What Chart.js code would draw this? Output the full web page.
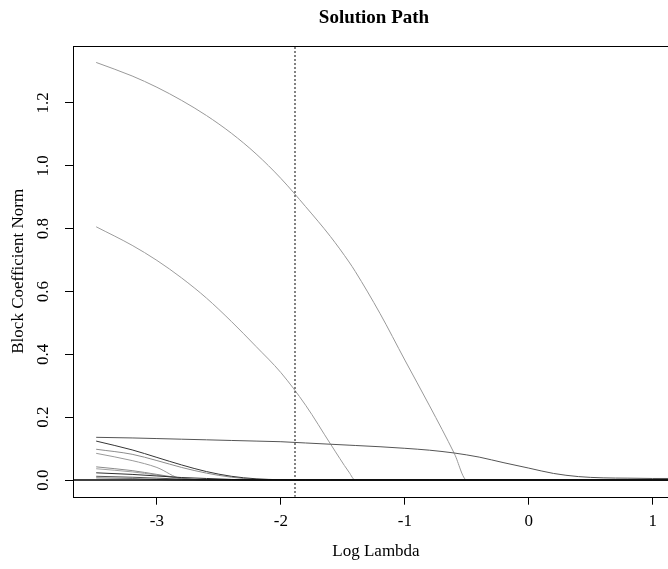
<!DOCTYPE html>
<html>
<head>
<meta charset="utf-8">
<title>Solution Path</title>
<script src="https://cdn.jsdelivr.net/npm/chart.js@4/dist/chart.umd.min.js"></script>
<style>
  html, body { margin: 0; padding: 0; background: #fff; overflow: hidden; }
  #wrap { width: 668px; height: 569px; overflow: hidden; }
  canvas { display: block; }
</style>
</head>
<body>
<div id="wrap"><canvas id="path-chart" width="700" height="569"></canvas></div>
<script>
// ====== Data ======
const lambdas = [-3.49, -3.2, -3.0, -2.8, -2.6, -2.4, -2.2, -2.0, -1.8, -1.6, -1.45, -1.4, -1.2,
                 -1.0, -0.8, -0.6, -0.5, -0.4, -0.2, 0, 0.2, 0.4, 0.6, 0.8, 1.0, 1.14];

const path1 = [1.329, 1.286, 1.250, 1.208, 1.160, 1.104, 1.038, 0.960, 0.870, 0.775, 0.694, 0.664, 0.530,
               0.382, 0.236, 0.084, 0.000, 0, 0, 0, 0, 0, 0, 0, 0, 0];
const path2 = [0.806, 0.747, 0.699, 0.643, 0.579, 0.505, 0.425, 0.342, 0.238, 0.115, 0.025, 0, 0,
               0, 0, 0, 0, 0, 0, 0, 0, 0, 0, 0, 0, 0];
const path3 = [0.136, 0.134, 0.132, 0.130, 0.128, 0.126, 0.124, 0.122, 0.118, 0.114, 0.111, 0.110, 0.106,
               0.101, 0.095, 0.086, 0.080, 0.073, 0.055, 0.038, 0.021, 0.011, 0.007, 0.006, 0.005, 0.005];
const pathA = [0.124, 0.096, 0.072, 0.048, 0.027, 0.012, 0.004, 0.001, 0, 0, 0, 0, 0,
               0, 0, 0, 0, 0, 0, 0, 0, 0, 0, 0, 0, 0];
const pathB = [0.098, 0.082, 0.062, 0.040, 0.022, 0.009, 0.002, 0, 0, 0, 0, 0, 0,
               0, 0, 0, 0, 0, 0, 0, 0, 0, 0, 0, 0, 0];
const pathC = [0.085, 0.062, 0.040, 0.004, 0, 0, 0, 0, 0, 0, 0, 0, 0,
               0, 0, 0, 0, 0, 0, 0, 0, 0, 0, 0, 0, 0];
const pathD = [0.042, 0.030, 0.018, 0.006, 0, 0, 0, 0, 0, 0, 0, 0, 0,
               0, 0, 0, 0, 0, 0, 0, 0, 0, 0, 0, 0, 0];
const pathE = [0.036, 0.026, 0.016, 0.005, 0, 0, 0, 0, 0, 0, 0, 0, 0,
               0, 0, 0, 0, 0, 0, 0, 0, 0, 0, 0, 0, 0];
const pathF = [0.023, 0.018, 0.013, 0.008, 0.005, 0.002, 0, 0, 0, 0, 0, 0, 0,
               0, 0, 0, 0, 0, 0, 0, 0, 0, 0, 0, 0, 0];
const pathG = [0.012, 0.009, 0.006, 0.003, 0.001, 0, 0, 0, 0, 0, 0, 0, 0,
               0, 0, 0, 0, 0, 0, 0, 0, 0, 0, 0, 0, 0];
const pathH = [0.007, 0.005, 0.002, 0, 0, 0, 0, 0, 0, 0, 0, 0, 0,
               0, 0, 0, 0, 0, 0, 0, 0, 0, 0, 0, 0, 0];

const selectedLambda = -1.886;   // dotted line
const xTicks = [-3, -2, -1, 0, 1];
const yTicks = [0, 0.2, 0.4, 0.6, 0.8, 1.0, 1.2];

const X_MIN = -3.677, X_MAX = 1.325;
const Y_MIN = -0.053, Y_MAX = 1.382;
const FONT = '"Liberation Serif", "Times New Roman", serif';

function series(values) {
  return lambdas.map((x, i) => ({ x: x, y: values[i] }));
}

function pathDataset(values, color) {
  return {
    data: series(values),
    borderColor: color,
    borderWidth: 1,
    pointRadius: 0,
    cubicInterpolationMode: 'monotone',
    fill: false
  };
}

// box, rotated y labels and titles, drawn R style
const rDecor = {
  id: 'rDecor',
  afterDraw(chart) {
    const ctx = chart.ctx;
    const a = chart.chartArea;
    const ys = chart.scales.y;
    ctx.save();
    ctx.strokeStyle = '#000';
    ctx.lineWidth = 1;
    ctx.strokeRect(Math.round(a.left) + 0.5, Math.round(a.top) + 0.5,
                   Math.round(a.right - a.left), Math.round(a.bottom - a.top));

    ctx.fillStyle = '#000';
    ctx.font = '17px ' + FONT;
    ctx.textAlign = 'center';
    ctx.textBaseline = 'alphabetic';
    yTicks.forEach(v => {
      const py = ys.getPixelForValue(v);
      ctx.save();
      ctx.translate(48, py);
      ctx.rotate(-Math.PI / 2);
      ctx.fillText(v.toFixed(1), 0, 0);
      ctx.restore();
    });

    // y title
    ctx.save();
    ctx.translate(23, (a.top + a.bottom) / 2);
    ctx.rotate(-Math.PI / 2);
    ctx.fillText('Block Coefficient Norm', 0, 0);
    ctx.restore();

    // x title
    ctx.fillText('Log Lambda', 376, 556);

    // main title
    ctx.font = 'bold 19px ' + FONT;
    ctx.fillText('Solution Path', 374, 23);
    ctx.restore();
  }
};

const ctx = document.getElementById('path-chart').getContext('2d');
new Chart(ctx, {
  type: 'line',
  data: {
    datasets: [
      {
        data: [{ x: X_MIN, y: 0 }, { x: X_MAX, y: 0 }],
        borderColor: '#000', borderWidth: 1.6, pointRadius: 0
      },
      {
        data: [{ x: selectedLambda, y: Y_MIN }, { x: selectedLambda, y: Y_MAX }],
        borderColor: '#222', borderWidth: 1.5, borderDash: [1.5, 2.5], pointRadius: 0
      },
      pathDataset(pathA, '#353535'),
      pathDataset(pathF, '#2e2e2e'),
      pathDataset(pathG, '#555555'),
      pathDataset(pathH, '#777777'),
      pathDataset(pathB, '#8c8c8c'),
      pathDataset(pathC, '#9a9a9a'),
      pathDataset(pathD, '#8a8a8a'),
      pathDataset(pathE, '#a0a0a0'),
      pathDataset(path3, '#555555'),
      pathDataset(path2, '#9c9c9c'),
      pathDataset(path1, '#999999')
    ]
  },
  options: {
    responsive: false,
    animation: false,
    devicePixelRatio: 1,
    layout: { padding: { top: 45.8, right: 7, left: 0, bottom: 0 } },
    plugins: { legend: { display: false }, tooltip: { enabled: false }, title: { display: false } },
    scales: {
      x: {
        type: 'linear',
        min: X_MIN,
        max: X_MAX,
        afterFit: s => { s.height = 72.3; },
        afterBuildTicks: s => { s.ticks = xTicks.map(v => ({ value: v })); },
        grid: { drawOnChartArea: false, drawTicks: true, tickLength: 8, color: '#000' },
        border: { display: false },
        ticks: {
          color: '#000',
          font: { family: FONT, size: 17 },
          padding: 7,
          maxRotation: 0,
          callback: v => String(v)
        }
      },
      y: {
        type: 'linear',
        min: Y_MIN,
        max: Y_MAX,
        afterFit: s => { s.width = 73; },
        afterBuildTicks: s => { s.ticks = yTicks.map(v => ({ value: v })); },
        grid: { drawOnChartArea: false, drawTicks: true, tickLength: 8, color: '#000' },
        border: { display: false },
        ticks: { display: false }
      }
    }
  },
  plugins: [rDecor]
});
</script>
</body>
</html>
